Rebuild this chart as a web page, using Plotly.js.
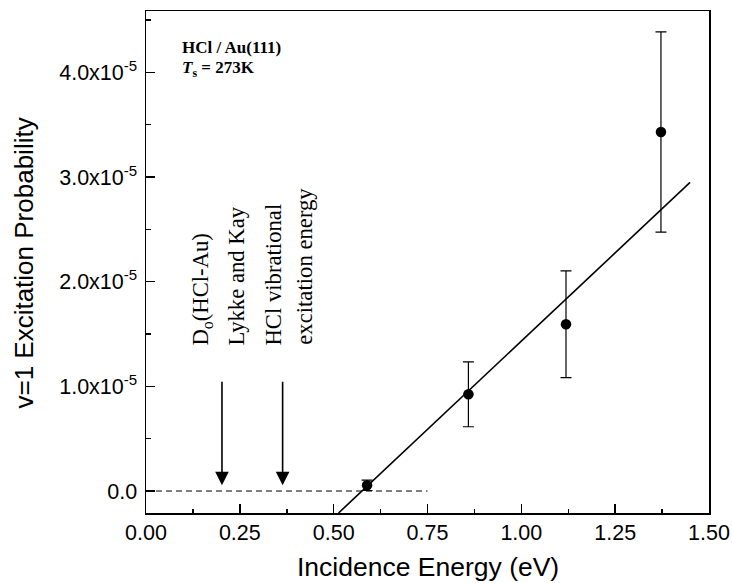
<!DOCTYPE html>
<html>
<head>
<meta charset="utf-8">
<script src="https://cdn.plot.ly/plotly-3.0.1.min.js"></script>
<style>html,body{margin:0;padding:0;background:#fff;}#chart{width:732px;height:583px;}</style>
</head>
<body>
<div id="chart"></div>
<script>
// Measured data points (incidence energy in eV, v=1 excitation probability)
const energy = [0.589, 0.859, 1.119, 1.372];
const prob = [0.055e-5, 0.924e-5, 1.594e-5, 3.43e-5];
const probErr = [0.05e-5, 0.31e-5, 0.51e-5, 0.956e-5];

// Linear fit line end points
const fitX = [0.513, 1.4495];
const fitY = [-0.21e-5, 2.948e-5];

// Zero reference (dashed)
const zeroX = [0, 0.75];
const zeroY = [0, 0];

// Marker arrows: energies and vertical extent
const arrowX = [0.2024, 0.364];
const arrowTailY = 1.058e-5;
const arrowTipY = 0.054e-5;

// Rotated labels
const labelTexts = ["D<sub>o</sub>(HCl-Au)", "Lykke and Kay", "HCl vibrational", "excitation energy"];
const labelX = [0.149, 0.2418, 0.3393, 0.4237];
const labelBottomY = 1.374e-5;

// Panel labels
const systemLabel = "<b>HCl / Au(111)</b>";
const tempLabel = "<b><i>T</i><sub>s</sub> = 273K</b>";
const xTitle = "Incidence Energy (eV)";
const yTitle = "v=1 Excitation Probability";

// Tick labels
const xTickVals = [0, 0.25, 0.5, 0.75, 1.0, 1.25, 1.5];
const xTickText = ["0.00", "0.25", "0.50", "0.75", "1.00", "1.25", "1.50"];
const yTickVals = [0, 1e-5, 2e-5, 3e-5, 4e-5];
const yTickText = ["0.0", "1.0x10<sup>-5</sup>", "2.0x10<sup>-5</sup>", "3.0x10<sup>-5</sup>", "4.0x10<sup>-5</sup>"];

const serif = "Liberation Serif, Times New Roman, serif";
const sans = "Liberation Sans, Arial, Helvetica, sans-serif";

const traces = [
  {x: zeroX, y: zeroY, mode: "lines", line: {color: "black", width: 1, dash: "6px,4px"}, hoverinfo: "skip"},
  {x: fitX, y: fitY, mode: "lines", line: {color: "black", width: 1.6}, hoverinfo: "skip"},
  {x: energy, y: prob, mode: "markers", marker: {color: "black", size: 10.5},
   error_y: {type: "data", array: probErr, visible: true, color: "black", thickness: 1.2, width: 5.5}}
];

const annotations = [];
arrowX.forEach(function (ax) {
  annotations.push({x: ax, y: arrowTipY, ax: ax, ay: arrowTailY, xref: "x", yref: "y", axref: "x", ayref: "y",
    text: "", showarrow: true, arrowhead: 2, arrowsize: 1.7, arrowwidth: 1.6, arrowcolor: "black", standoff: 0});
});
labelTexts.forEach(function (t, i) {
  annotations.push({x: labelX[i], y: labelBottomY, xref: "x", yref: "y", text: t, showarrow: false,
    textangle: -90, xanchor: "center", yanchor: "bottom", font: {family: serif, size: 22.7, color: "black"}});
});
annotations.push({x: 0.0609, y: 0.951, xref: "paper", yref: "paper", xanchor: "left", yanchor: "top", align: "left",
  showarrow: false, text: systemLabel, font: {family: serif, size: 17, color: "black"}});
annotations.push({x: 0.0609, y: 0.911, xref: "paper", yref: "paper", xanchor: "left", yanchor: "top", align: "left",
  showarrow: false, text: tempLabel, font: {family: serif, size: 17, color: "black"}});
annotations.push({x: 0.5, y: -0.1085, xref: "paper", yref: "paper", xanchor: "center", yanchor: "middle",
  showarrow: false, text: xTitle, font: {family: sans, size: 26.5, color: "black"}});
annotations.push({x: -0.2184, y: 0.497, xref: "paper", yref: "paper", xanchor: "center", yanchor: "middle",
  showarrow: false, textangle: -90, text: yTitle, font: {family: sans, size: 26, color: "black"}});

const axisCommon = {
  showgrid: false, zeroline: false, showline: true, mirror: true, linecolor: "black", linewidth: 1.5,
  ticks: "inside", ticklen: 9, tickwidth: 1.5, tickcolor: "black",
  tickfont: {family: sans, size: 21.5, color: "black"}
};

const layout = {
  width: 732, height: 583,
  margin: {l: 146, r: 23, t: 11, b: 70},
  paper_bgcolor: "white", plot_bgcolor: "white",
  showlegend: false,
  xaxis: Object.assign({}, axisCommon, {
    range: [0, 1.5], tickmode: "array", tickvals: xTickVals, ticktext: xTickText,
    minor: {tickmode: "linear", tick0: 0, dtick: 0.125, ticks: "inside", ticklen: 4.5, tickwidth: 1.5, tickcolor: "black", showgrid: false}
  }),
  yaxis: Object.assign({}, axisCommon, {
    range: [-0.21e-5, 4.586e-5], tickmode: "array", tickvals: yTickVals, ticktext: yTickText,
    ticklabelstandoff: 3,
    minor: {tickmode: "linear", tick0: 0, dtick: 0.5e-5, ticks: "inside", ticklen: 5, tickwidth: 1.5, tickcolor: "black", showgrid: false}
  }),
  annotations: annotations
};

Plotly.newPlot("chart", traces, layout, {displayModeBar: false, staticPlot: true});
</script>
</body>
</html>
